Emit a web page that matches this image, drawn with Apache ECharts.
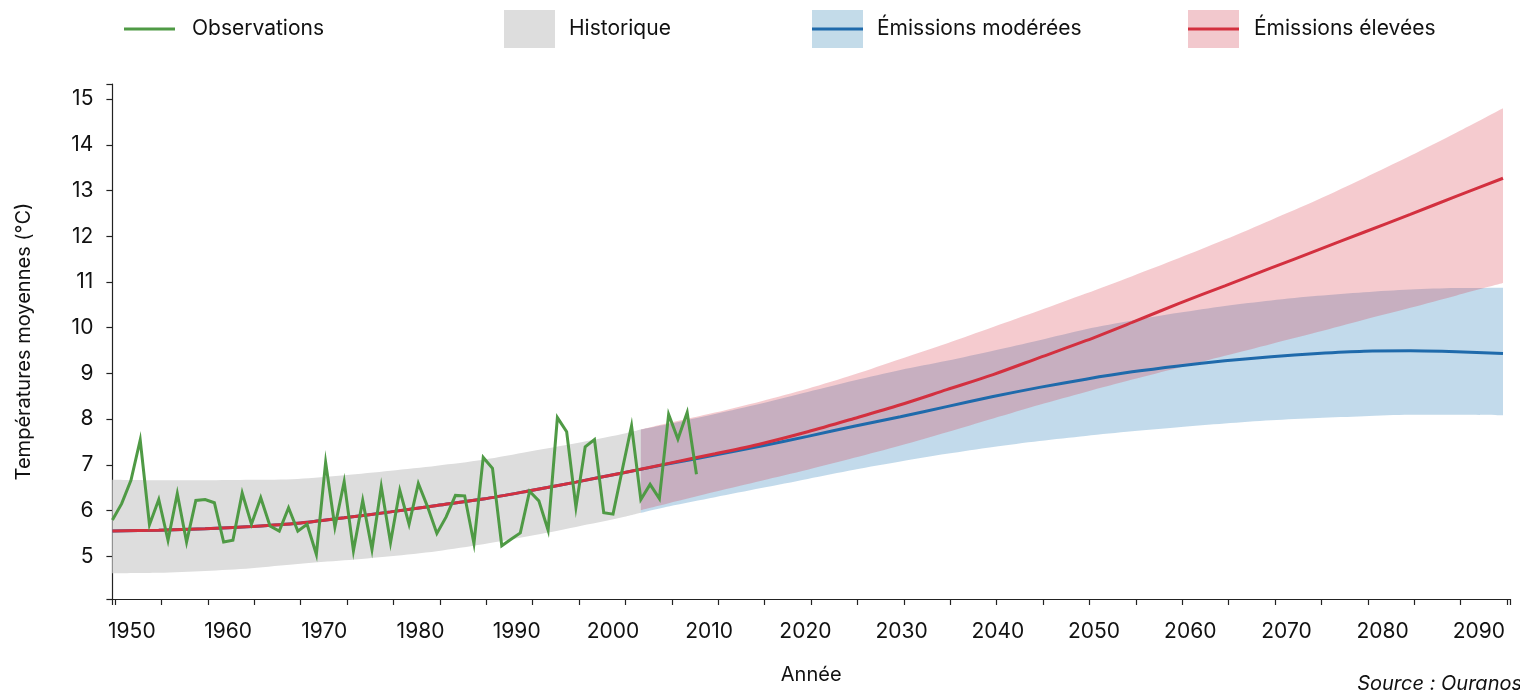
<!DOCTYPE html>
<html>
<head>
<meta charset="utf-8">
<script src="https://cdn.jsdelivr.net/npm/echarts@6/dist/echarts.min.js"></script>
<style>
  html, body { margin: 0; padding: 0; background: #fff; }
  #chart { width: 1520px; height: 690px; }
</style>
</head>
<body>
<div id="chart"></div>
<script>
  // observations, one value per year from obsStart
  const obsStart = 1950;
  const observations = [
    5.80, 6.16, 6.67, 7.55, 5.70, 6.25, 5.36, 6.38, 5.32, 6.23,
    6.25, 6.18, 5.32, 5.36, 6.39, 5.71, 6.29, 5.67, 5.56, 6.07,
    5.56, 5.71, 5.05, 7.06, 5.65, 6.64, 5.13, 6.23, 5.16, 6.53,
    5.31, 6.45, 5.71, 6.60, 6.09, 5.51, 5.87, 6.34, 6.33, 5.29,
    7.17, 6.93, 5.24, 5.38, 5.52, 6.43, 6.22, 5.58, 8.04, 7.73,
    6.08, 7.40, 7.56, 5.96, 5.93, 6.90, 7.86, 6.25, 6.58, 6.27,
    8.11, 7.57, 8.15, 6.80
  ];
  const obsYears = observations.map((_, i) => obsStart + i);

  // mean of the scenarios
  const lineYears = [
    1950, 1955, 1960, 1965, 1970, 1975, 1980, 1985, 1990, 1995, 2000,
    2005, 2010, 2015, 2020, 2025, 2030, 2035, 2040, 2045, 2050,
    2055, 2060, 2065, 2070, 2075, 2080, 2085, 2090, 2095, 2100
  ];
  const moderateLine = [
    5.56, 5.58, 5.61, 5.66, 5.73, 5.85, 5.98, 6.12, 6.26, 6.44, 6.63,
    6.83, 7.03, 7.22, 7.42, 7.63, 7.85, 8.06, 8.28, 8.50, 8.70,
    8.88, 9.04, 9.17, 9.28, 9.37, 9.44, 9.49, 9.50, 9.48, 9.44
  ];
  const highLine = [
    5.56, 5.58, 5.61, 5.66, 5.73, 5.85, 5.98, 6.12, 6.26, 6.44, 6.63,
    6.83, 7.04, 7.25, 7.47, 7.73, 8.02, 8.32, 8.65, 8.98, 9.35,
    9.72, 10.12, 10.53, 10.92, 11.31, 11.70, 12.09, 12.48, 12.88, 13.27
  ];

  // historical envelope
  const histYears = [1950, 1955, 1960, 1965, 1970, 1975, 1980, 1985, 1990, 1995, 2000, 2005, 2007];
  const histLow  = [4.64, 4.65, 4.69, 4.75, 4.84, 4.92, 5.01, 5.12, 5.27, 5.45, 5.65, 5.86, 5.96];
  const histHigh = [6.68, 6.67, 6.67, 6.68, 6.70, 6.78, 6.88, 6.99, 7.12, 7.30, 7.48, 7.68, 7.78];

  // projection envelopes
  const projYears = [
    2007, 2010, 2015, 2020, 2025, 2030, 2035, 2040, 2045, 2050,
    2055, 2060, 2065, 2070, 2075, 2080, 2085, 2090, 2095, 2100
  ];
  const moderateLow = [
    5.96, 6.10, 6.30, 6.50, 6.70, 6.90, 7.08, 7.25, 7.40, 7.53,
    7.64, 7.74, 7.83, 7.91, 7.98, 8.03, 8.07, 8.10, 8.10, 8.09
  ];
  const moderateHigh = [
    7.78, 7.90, 8.12, 8.35, 8.60, 8.85, 9.08, 9.28, 9.50, 9.73,
    9.97, 10.16, 10.33, 10.48, 10.60, 10.70, 10.78, 10.84, 10.87, 10.88
  ];
  const highLow = [
    6.02, 6.17, 6.42, 6.66, 6.90, 7.16, 7.43, 7.72, 8.02, 8.32,
    8.60, 8.87, 9.13, 9.39, 9.65, 9.91, 10.18, 10.44, 10.71, 10.98
  ];
  const highHigh = [
    7.78, 7.92, 8.15, 8.40, 8.67, 8.98, 9.32, 9.66, 10.02, 10.38,
    10.75, 11.13, 11.52, 11.93, 12.36, 12.80, 13.27, 13.76, 14.27, 14.80
  ];

  const legendNames = ['Observations', 'Historique', 'Émissions modérées', 'Émissions élevées'];

  const FONT = 'Inter, "Noto Sans", sans-serif';
  const GREEN = '#4f9a45';
  const BLUE = '#1f6aab';
  const RED = '#d3303f';

  const pairs = (xs, ys) => xs.map((x, i) => [x, ys[i]]);
  // value first so the stack runs on y, not on the year
  const bandPairs = (xs, ys) => xs.map((x, i) => [ys[i], x]);
  const bandDiff = (xs, lo, hi) => xs.map((x, i) => [+(hi[i] - lo[i]).toFixed(3), x]);

  const bandBase = (name, stack, xs, lo) => ({
    name: name + '-base',
    type: 'line',
    xAxisIndex: 0,
    yAxisIndex: 0,
    stack: stack,
    encode: { x: 1, y: 0 },
    data: bandPairs(xs, lo),
    smooth: 0.3,
    symbol: 'none',
    silent: true,
    lineStyle: { width: 0, opacity: 0 }
  });
  const bandFill = (name, stack, xs, lo, hi, color) => ({
    name: name,
    type: 'line',
    xAxisIndex: 0,
    yAxisIndex: 0,
    stack: stack,
    encode: { x: 1, y: 0 },
    data: bandDiff(xs, lo, hi),
    smooth: 0.3,
    symbol: 'none',
    silent: true,
    lineStyle: { width: 0, opacity: 0 },
    areaStyle: { color: color, opacity: 1 }
  });

  const Y_MIN = 4.065;
  const Y_MAX = 15.33;

  const chart = echarts.init(document.getElementById('chart'));

  const legendFont = '21px ' + FONT;
  const legendGraphic = [
    { type: 'line', shape: { x1: 124, y1: 29, x2: 175, y2: 29 }, style: { stroke: GREEN, lineWidth: 3 } },
    { type: 'text', x: 192, y: 29, style: { text: legendNames[0], font: legendFont, fill: '#111', verticalAlign: 'middle' } },
    { type: 'rect', shape: { x: 504, y: 10, width: 51, height: 38 }, style: { fill: '#dddddd' } },
    { type: 'text', x: 569, y: 29, style: { text: legendNames[1], font: legendFont, fill: '#111', verticalAlign: 'middle' } },
    { type: 'rect', shape: { x: 812, y: 10, width: 51, height: 38 }, style: { fill: '#c3dbe9' } },
    { type: 'line', shape: { x1: 812, y1: 29, x2: 863, y2: 29 }, style: { stroke: BLUE, lineWidth: 3 } },
    { type: 'text', x: 877, y: 29, style: { text: legendNames[2], font: legendFont, fill: '#111', verticalAlign: 'middle' } },
    { type: 'rect', shape: { x: 1188, y: 10, width: 51, height: 38 }, style: { fill: '#f2c8cd' } },
    { type: 'line', shape: { x1: 1188, y1: 29, x2: 1239, y2: 29 }, style: { stroke: RED, lineWidth: 3 } },
    { type: 'text', x: 1254, y: 29, style: { text: legendNames[3], font: legendFont, fill: '#111', verticalAlign: 'middle' } },
    { type: 'text', x: 1522, y: 684, style: { text: 'Source : Ouranos', font: 'italic 20px ' + FONT, fill: '#111', align: 'right', verticalAlign: 'middle' } }
  ];

  const option = {
    animation: false,
    backgroundColor: '#fff',
    textStyle: { fontFamily: FONT },
    graphic: legendGraphic,
    grid: [
      // data area
      { left: 112.4, right: 17, top: 84, bottom: 90.5 },
      // axes (line runs a little past the data)
      { left: 112.4, right: 10, top: 84, bottom: 90.5 }
    ],
    xAxis: [
      {
        type: 'value', gridIndex: 0, min: 1950, max: 2100, show: false
      },
      {
        // tick marks every 5 years
        type: 'value', gridIndex: 1, position: 'bottom',
        min: 1949.72, max: 2100.32, splitNumber: 30,
        axisLine: { show: true, onZero: false, lineStyle: { color: '#222', width: 1.2 } },
        axisTick: { show: true, length: 6, lineStyle: { color: '#222', width: 1.2 } },
        axisLabel: { show: false },
        splitLine: { show: false }
      },
      {
        // decade labels
        type: 'value', gridIndex: 1, position: 'bottom',
        min: 1947.98, max: 2093.23, splitNumber: 14,
        axisLine: { show: false, onZero: false },
        axisTick: { show: false },
        splitLine: { show: false },
        axisLabel: {
          margin: 22,
          fontSize: 21,
          color: '#111',
          fontFamily: FONT,
          formatter: v => (Math.abs(v % 10) < 1e-6 ? String(v) : '')
        },
        name: 'Année',
        nameLocation: 'middle',
        nameGap: 66,
        nameTextStyle: { fontSize: 20, color: '#111', fontFamily: FONT }
      }
    ],
    yAxis: [
      {
        type: 'value', gridIndex: 0, min: Y_MIN, max: Y_MAX, show: false
      },
      {
        type: 'value', gridIndex: 1, min: Y_MIN, max: Y_MAX, splitNumber: 11,
        axisLine: { show: true, onZero: false, lineStyle: { color: '#222', width: 1.2 } },
        axisTick: { show: true, length: 6, lineStyle: { color: '#222', width: 1.2 } },
        splitLine: { show: false },
        axisLabel: {
          margin: 19,
          fontSize: 21,
          color: '#111',
          fontFamily: FONT,
          formatter: v => (Number.isInteger(Math.round(v * 1e6) / 1e6) ? String(Math.round(v)) : '')
        },
        name: 'Températures moyennes (°C)',
        nameLocation: 'middle',
        nameGap: 78,
        nameTextStyle: { fontSize: 20, color: '#111', fontFamily: FONT }
      }
    ],
    series: [
      bandBase('Historique', 'hist', histYears, histLow),
      bandFill('Historique', 'hist', histYears, histLow, histHigh, '#dddddd'),

      bandBase('Émissions modérées', 'mod', projYears, moderateLow),
      bandFill('Émissions modérées', 'mod', projYears, moderateLow, moderateHigh, 'rgba(31,119,180,0.27)'),
      {
        name: 'Émissions modérées (moyenne)',
        type: 'line', xAxisIndex: 0, yAxisIndex: 0,
        data: pairs(lineYears, moderateLine),
        smooth: 0.3, symbol: 'none',
        lineStyle: { color: BLUE, width: 3 }
      },

      bandBase('Émissions élevées', 'high', projYears, highLow),
      bandFill('Émissions élevées', 'high', projYears, highLow, highHigh, 'rgba(214,48,62,0.25)'),
      {
        name: 'Émissions élevées (moyenne)',
        type: 'line', xAxisIndex: 0, yAxisIndex: 0,
        data: pairs(lineYears, highLine),
        smooth: 0.3, symbol: 'none',
        lineStyle: { color: RED, width: 3 }
      },

      {
        name: 'Observations',
        type: 'line', xAxisIndex: 0, yAxisIndex: 0,
        data: pairs(obsYears, observations),
        symbol: 'none',
        lineStyle: { color: GREEN, width: 3, join: 'miter' }
      }
    ]
  };

  chart.setOption(option);
</script>
</body>
</html>
